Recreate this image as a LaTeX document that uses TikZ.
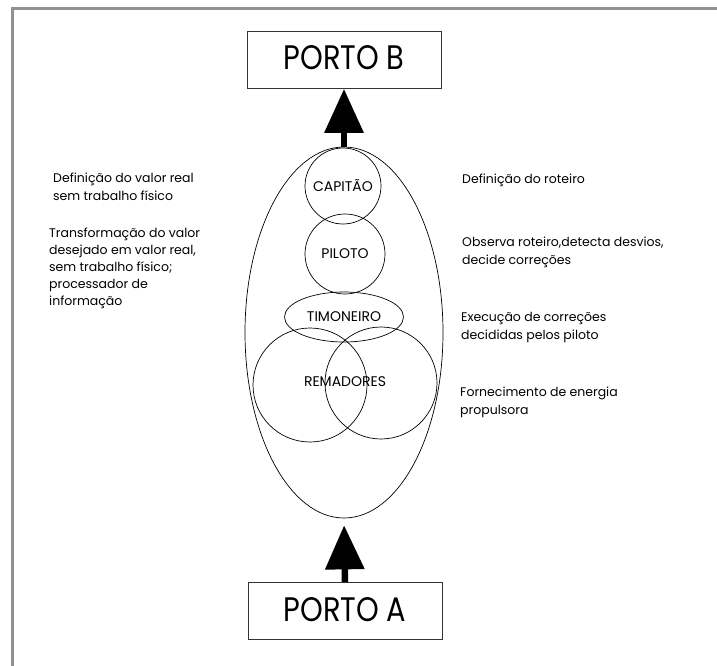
\documentclass[tikz,border=0pt]{standalone}
\usepackage{fontspec}
\setmainfont{Poppins}
\newfontfamily\portfont[FakeStretch=0.85]{Poppins}
\usepackage{xcolor}
\usepackage{tikz}
\usetikzlibrary{shapes.geometric,arrows.meta,positioning}
\definecolor{framegray}{RGB}{145,145,145}

\begin{document}
\begin{tikzpicture}[x=1pt,y=-1pt,
    portbox/.style={draw=black!80,line width=0.8pt,minimum width=194pt,minimum height=57pt,inner sep=0pt,font=\portfont\fontsize{34}{34}\selectfont},
    role/.style={draw,circle,line width=0.7pt,inner sep=0pt,font=\fontsize{14}{14}\selectfont},
    note/.style={anchor=west,align=left,inner sep=0pt,font=\fontsize{12.5}{18}\selectfont},
    bigarrow/.style={line width=6.5pt,-{Triangle[length=44pt,width=38pt]}}]
    \useasboundingbox (0,0) rectangle (717,666);
    % Draw frame
    \draw[framegray,line width=3pt] (12,666) -- (12,9) -- (717,9);
    % Ports
    \node[portbox] (portoB) at (344,60) {\raisebox{4pt}{PORTO B}};
    \node[portbox] (portoA) at (345,611) {\raisebox{3pt}{PORTO A}};
    % Boat and crew
    \node[draw,ellipse,line width=0.7pt,minimum width=198pt,minimum height=371pt,inner sep=0pt] (barco) at (344,332.5) {};
    \node[role,minimum size=76pt] (capitao) at (343,186) {CAPITÃO};
    \node[role,minimum size=80pt] (piloto) at (345,254) {PILOTO};
    \node[role,ellipse,minimum width=119pt,minimum height=50pt] (timoneiro) at (344,317) {TIMONEIRO};
    \node[role,minimum size=114pt] (remL) at (310,385) {};
    \node[role,minimum size=112pt] (remR) at (381,383) {};
    \node[font=\fontsize{14}{14}\selectfont] (remadores) at (345,382) {REMADORES};
    % Arrows
    \draw[bigarrow] (barco.north) -- (portoB.south);
    \draw[bigarrow,shorten >=7pt] (portoA.north) -- (barco.south);
    % Left notes
    \node[note] (fisico) at (53,187) {Definição do valor real\\sem trabalho físico};
    \node[note,font=\fontsize{12.5}{17}\selectfont] (informacao) at (49,268) {Transformação do valor\\desejado em valor real,\\sem trabalho físico;\\processador de\\informação};
    % Right notes
    \node[note] (roteiro) at (462,180) {Definição do roteiro};
    \node[note] (observa) at (462,252.5) {Observa roteiro,detecta desvios,\\decide correções};
    \node[note] (execucao) at (461,327) {Execução de correções\\decididas pelos piloto};
    \node[note] (energia) at (460,402.5) {Fornecimento de energia\\propulsora};
\end{tikzpicture}
\end{document}
